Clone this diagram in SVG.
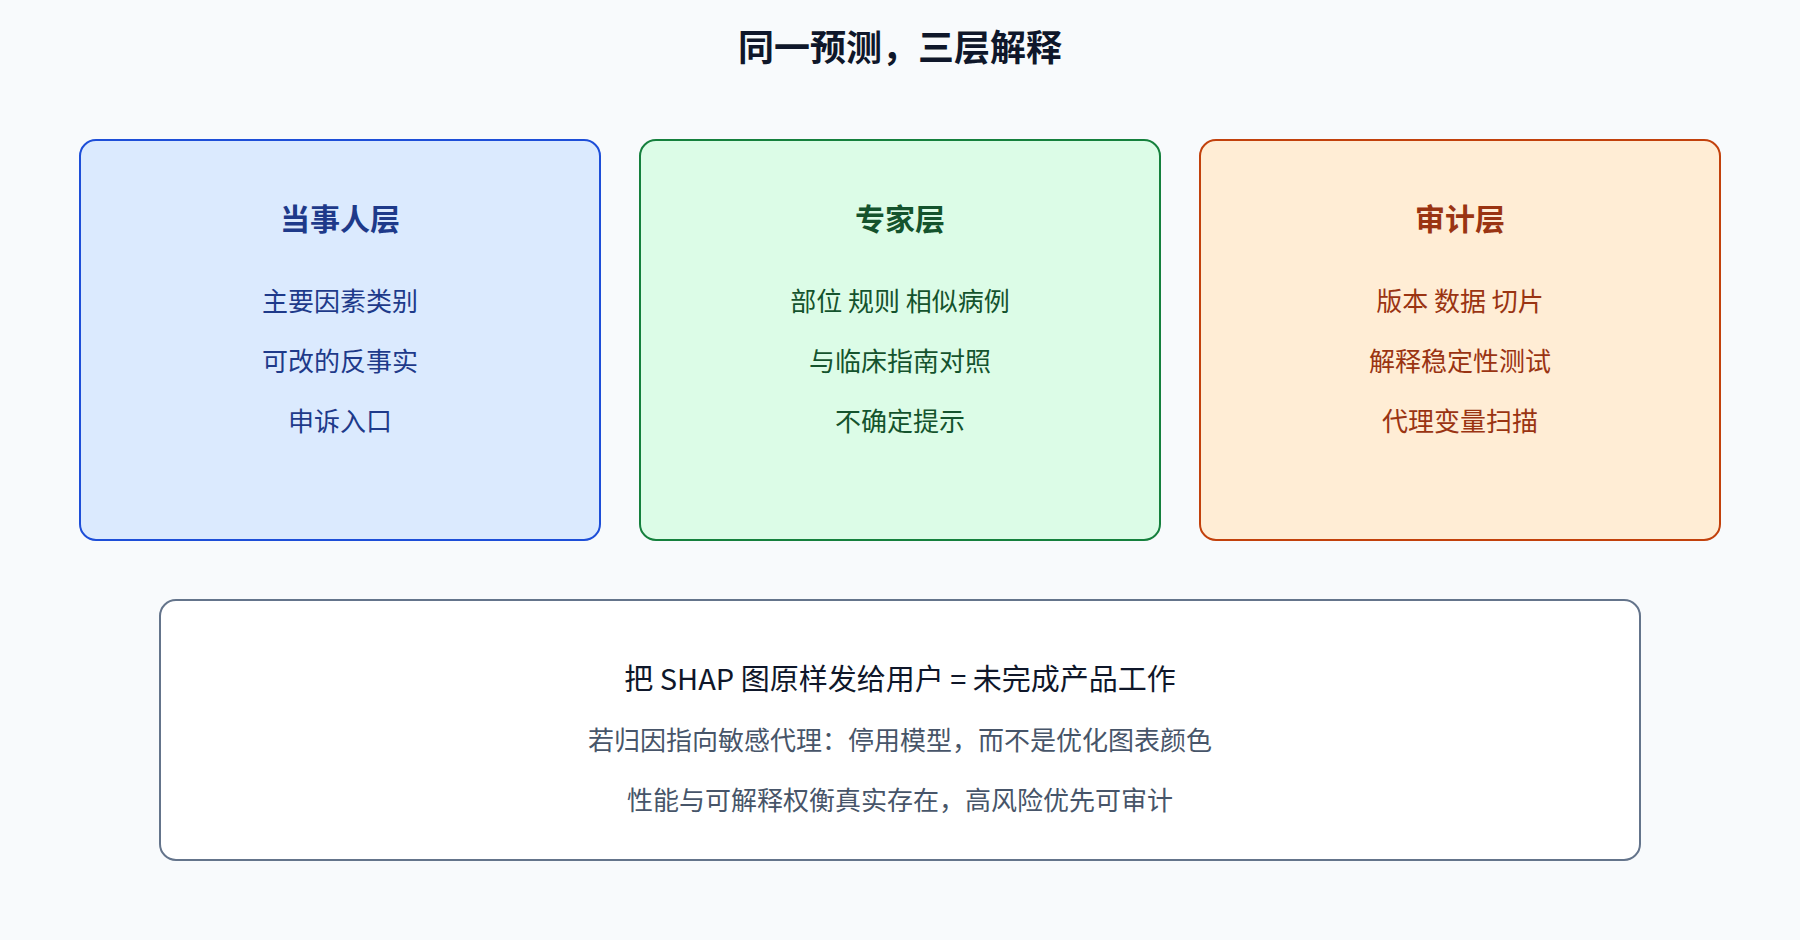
<svg xmlns="http://www.w3.org/2000/svg" width="1800" height="940" viewBox="0 0 1800 940">
<style>
text{font-family:"Noto Sans CJK SC","Noto Sans",sans-serif;text-anchor:middle}
.title{font-size:36px;font-weight:700;fill:#0f172a}
.h{font-size:30px;font-weight:700}
.i{font-size:26px}
.b1 rect{fill:#dbeafe;stroke:#1d4ed8}
.b1 text{fill:#1e3a8a}
.b2 rect{fill:#dcfce7;stroke:#15803d}
.b2 text{fill:#14532d}
.b3 rect{fill:#ffedd5;stroke:#c2410c}
.b3 text{fill:#9a3412}
rect{stroke-width:2}
</style>
<rect x="0" y="0" width="1800" height="940" fill="#f8fafc" stroke="none"/>
<text class="title" x="900" y="61">同一预测，三层解释</text>
<g id="layer-party" class="b1">
<rect x="80" y="140" width="520" height="400" rx="16"/>
<text class="h" x="340" y="230">当事人层</text>
<text class="i" x="340" y="311">主要因素类别</text>
<text class="i" x="340" y="371">可改的反事实</text>
<text class="i" x="340" y="431">申诉入口</text>
</g>
<g id="layer-expert" class="b2">
<rect x="640" y="140" width="520" height="400" rx="16"/>
<text class="h" x="900" y="230">专家层</text>
<text class="i" x="900" y="311">部位 规则 相似病例</text>
<text class="i" x="900" y="371">与临床指南对照</text>
<text class="i" x="900" y="431">不确定提示</text>
</g>
<g id="layer-audit" class="b3">
<rect x="1200" y="140" width="520" height="400" rx="16"/>
<text class="h" x="1460" y="230">审计层</text>
<text class="i" x="1460" y="311">版本 数据 切片</text>
<text class="i" x="1460" y="371">解释稳定性测试</text>
<text class="i" x="1460" y="431">代理变量扫描</text>
</g>
<g id="note">
<rect x="160" y="600" width="1480" height="260" rx="16" fill="#ffffff" stroke="#64748b"/>
<text x="900" y="690" font-size="29" fill="#0f172a">把 SHAP 图原样发给用户 = 未完成产品工作</text>
<text class="i" x="900" y="750" fill="#475569">若归因指向敏感代理：停用模型，而不是优化图表颜色</text>
<text class="i" x="900" y="810" fill="#475569">性能与可解释权衡真实存在，高风险优先可审计</text>
</g>
<g id="connectors"></g>
</svg>
